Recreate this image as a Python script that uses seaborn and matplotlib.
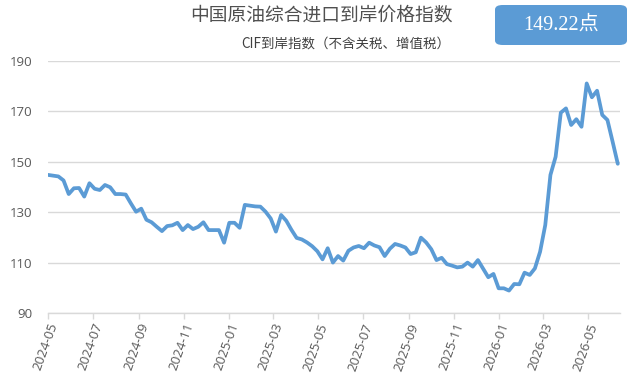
import numpy as np
import pandas as pd
import matplotlib
matplotlib.use("Agg")
import matplotlib.pyplot as plt
import matplotlib.dates as mdates
from matplotlib.patches import FancyBboxPatch
import seaborn as sns

# ---- data ----
title = "中国原油综合进口到岸价格指数"
subtitle = "CIF到岸指数（不含关税、增值税）"
badge = "149.22点"
start_date = "2024-05-01"
values = [
    144.8, 144.5, 144.2, 142.6, 137.2, 139.5, 139.6, 136.2, 141.5, 139.3,
    138.8, 140.8, 139.9, 137.2, 137.2, 137.0, 133.5, 130.2, 131.4, 127.0,
    126.0, 124.2, 122.5, 124.5, 124.8, 125.8, 122.9, 124.9, 123.3, 124.2,
    126.0, 122.9, 122.9, 122.9, 117.9, 125.8, 125.8, 123.8, 132.9, 132.6,
    132.3, 132.2, 130.2, 127.5, 122.3, 128.9, 126.6, 123.0, 119.8, 119.2,
    118.0, 116.5, 114.5, 111.3, 115.7, 110.0, 112.6, 110.8, 114.7, 116.0,
    116.6, 115.7, 117.9, 116.8, 116.1, 112.6, 115.5, 117.4, 116.8, 116.0,
    113.4, 114.1, 119.9, 118.0, 115.3, 111.0, 111.9, 109.4, 108.8, 108.1,
    108.4, 110.0, 108.4, 111.0, 107.6, 104.2, 105.5, 99.8, 99.8, 98.9,
    101.5, 101.4, 106.0, 105.1, 107.7, 114.3, 124.9, 144.8, 152.0, 169.5,
    171.2, 164.6, 166.9, 163.9, 181.1, 175.6, 178.2, 168.6, 166.6, 158.0,
    149.22,
]
yticks = [90, 110, 130, 150, 170, 190]

dates = pd.date_range(start_date, periods=len(values), freq="7D")
df = pd.DataFrame({"date": dates, "value": values})

sns.set_style("white")
plt.rcParams["font.family"] = ["Open Sans", "Noto Sans CJK SC", "DejaVu Sans"]

W, H = 642, 381
fig = plt.figure(figsize=(W / 100, H / 100), dpi=100)
ax = fig.add_axes([48 / W, 1 - 313 / H, (620 - 48) / W, (313 - 61) / H])

sns.lineplot(data=df, x="date", y="value", ax=ax, color="#5b9bd5", linewidth=2.7)

ax.set_ylim(90, 190)
ax.set_yticks(yticks)
ax.set_xlim(dates[0], dates[-1] + pd.Timedelta(days=3))
ax.xaxis.set_major_locator(mdates.MonthLocator(bymonth=[1, 3, 5, 7, 9, 11]))
ax.xaxis.set_major_formatter(mdates.DateFormatter("%Y-%m"))
ax.set_xlabel("")
ax.set_ylabel("")

ax.grid(axis="y", color="#d9d9d9", linewidth=1)
ax.grid(axis="x", visible=False)
ax.set_axisbelow(True)
for s in ["top", "right", "left"]:
    ax.spines[s].set_visible(False)
ax.spines["bottom"].set_color("#d9d9d9")
ax.spines["bottom"].set_linewidth(1)

ax.tick_params(axis="x", length=4, width=1, color="#d9d9d9", labelsize=9.5,
               labelcolor="#595959", pad=2, bottom=True)
ax.tick_params(axis="y", length=0, labelsize=9.5, labelcolor="#595959", pad=11)
plt.setp(ax.get_xticklabels(), rotation=70, ha="right", rotation_mode="anchor")

fig.text(321 / W, 1 - 15 / H, title, ha="center", va="center", fontsize=13.5,
         color="#505050", family=["Noto Sans CJK SC", "DejaVu Sans"])
fig.text(346 / W, 1 - 44 / H, subtitle, ha="center", va="center", fontsize=9.7,
         color="#404040", family=["Noto Sans CJK SC", "DejaVu Sans"])

bx0, bx1, by0, by1 = 495, 627, 5, 45
box = FancyBboxPatch((bx0 / W, 1 - by1 / H), (bx1 - bx0) / W, (by1 - by0) / H,
                     boxstyle="round,pad=0,rounding_size=0.012",
                     transform=fig.transFigure, facecolor="#5b9bd5",
                     edgecolor="none")
fig.patches.append(box)
fig.text((bx0 + bx1) / 2 / W, 1 - (by0 + by1) / 2 / H, badge, ha="center",
         va="center", fontsize=14.5, color="white",
         family=["Liberation Serif", "Noto Sans CJK SC"])

fig.savefig("out.png", dpi=100, facecolor="white")
